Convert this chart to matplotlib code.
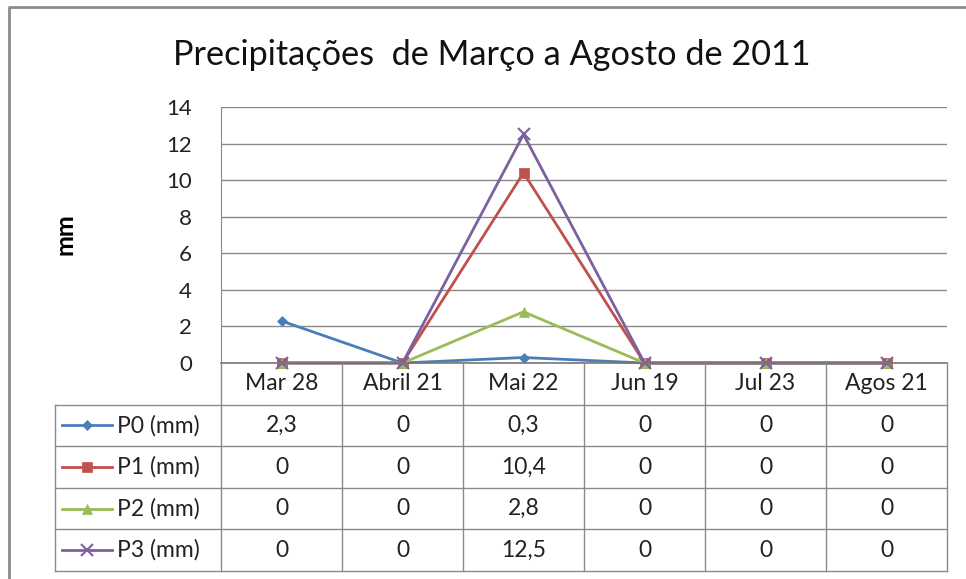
import matplotlib.pyplot as plt
from matplotlib.lines import Line2D

plt.rcParams['font.family'] = ['Lato', 'DejaVu Sans']

# dados
categorias = ["Mar 28", "Abril 21", "Mai 22", "Jun 19", "Jul 23", "Agos 21"]
series_nomes = ["P0 (mm)", "P1 (mm)", "P2 (mm)", "P3 (mm)"]
p0 = [2.3, 0, 0.3, 0, 0, 0]
p1 = [0, 0, 10.4, 0, 0, 0]
p2 = [0, 0, 2.8, 0, 0, 0]
p3 = [0, 0, 12.5, 0, 0, 0]
valores = [p0, p1, p2, p3]
cores = ["#4A7EBB", "#C0504D", "#9BBB59", "#7D60A0"]
marcadores = ["D", "s", "^", "x"]
tamanhos = [5, 7, 7, 8]

W, H = 966, 579
fig = plt.figure(figsize=(W / 100, H / 100), dpi=100)

# moldura (so topo e lado esquerdo aparecem)
fig.lines.append(Line2D([9 / W, 9 / W, 1], [0, 1 - 7 / H, 1 - 7 / H], transform=fig.transFigure,
                        color='#8c8c8c', linewidth=2))

fig.text(492 / W, 1 - 55 / H, "Precipitações  de Março a Agosto de 2011",
         ha='center', va='center', fontsize=24.7, color='#111111')

# area do grafico
x_esq, x_dir, y_topo, y_zero = 221, 947, 107, 363
ax = fig.add_axes([x_esq / W, 1 - y_zero / H, (x_dir - x_esq) / W, (y_zero - y_topo) / H])
ax.set_facecolor('none')
x = list(range(len(categorias)))
for vals, cor, mk, ms in zip(valores, cores, marcadores, tamanhos):
    ax.plot(x, vals, color=cor, linewidth=2, marker=mk, markersize=ms,
            markeredgewidth=1.5 if mk == 'x' else 0.5, clip_on=False, zorder=3)
ax.set_xlim(-0.5, len(categorias) - 0.5)
ax.set_ylim(0, 14)
ax.set_yticks(range(0, 15, 2))
ax.set_xticks([])
ax.tick_params(axis='y', length=0, labelsize=16, pad=21, colors='#222222')
ax.grid(axis='y', color='#8a8a8a', linewidth=1)
ax.set_axisbelow(True)
for s in ['top', 'right', 'bottom']:
    ax.spines[s].set_visible(False)
ax.spines['left'].set_color('#8a8a8a')
fig.text(65 / W, 1 - 234 / H, "mm", rotation=90, ha='center', va='center',
         fontsize=18, fontweight='bold')

# tabela de dados
col_w = (x_dir - x_esq) / len(categorias)
x0 = -0.5 - (x_esq - 55) / col_w
tab = fig.add_axes([55 / W, 1 - 571 / H, (x_dir - 55) / W, (571 - y_zero) / H])
tab.set_xlim(x0, len(categorias) - 0.5)
tab.set_ylim(5, 0)
tab.axis('off')
lc = '#8a8a8a'
tab.plot([-0.5, len(categorias) - 0.5], [0, 0], color='#777777', linewidth=1.2, clip_on=False)
for r in range(1, 6):
    tab.plot([x0, len(categorias) - 0.5], [r, r], color=lc, linewidth=1, clip_on=False)
for c in range(len(categorias) + 1):
    tab.plot([c - 0.5, c - 0.5], [0, 5], color=lc, linewidth=1, clip_on=False)
tab.plot([x0, x0], [1, 5], color=lc, linewidth=1, clip_on=False)

fs = 16.5
for i, cat in enumerate(categorias):
    tab.text(i, 0.5, cat, ha='center', va='center', fontsize=fs, color='#222222')
for r, (nome, vals, cor, mk, ms) in enumerate(zip(series_nomes, valores, cores, marcadores, tamanhos)):
    yc = r + 1.5
    lx0 = x0 + 7 / col_w
    lx1 = x0 + 57 / col_w
    tab.plot([lx0, lx1], [yc, yc], color=cor, linewidth=2)
    tab.plot([(lx0 + lx1) / 2], [yc], color=cor, marker=mk, markersize=ms,
             markeredgewidth=1.5 if mk == 'x' else 0.5)
    tab.text(x0 + 62 / col_w, yc, nome, ha='left', va='center', fontsize=fs, color='#222222')
    for i, v in enumerate(vals):
        txt = "0" if v == 0 else f"{v:.1f}".replace('.', ',')
        tab.text(i, yc, txt, ha='center', va='center', fontsize=fs, color='#222222')

plt.savefig("out.png", dpi=100)
